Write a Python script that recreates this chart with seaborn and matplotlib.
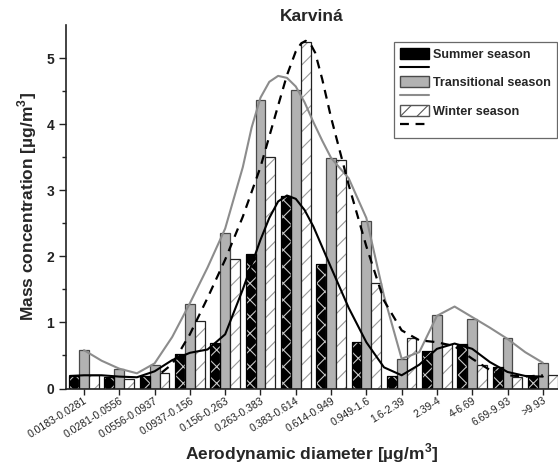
import numpy as np
import pandas as pd
import seaborn as sns
import matplotlib
matplotlib.use("Agg")
import matplotlib.pyplot as plt
from matplotlib.patches import Patch, Rectangle
from matplotlib.lines import Line2D

# ---------------- data ----------------
categories = ["0.0183-0.0281", "0.0281-0.0556", "0.0556-0.0937", "0.0937-0.156",
              "0.156-0.263", "0.263-0.383", "0.383-0.614", "0.614-0.949",
              "0.949-1.6", "1.6-2.39", "2.39-4", "4-6.69", "6.69-9.93", ">9.93"]
seasons = ["Summer season", "Transitional season", "Winter season"]
summer = [0.19, 0.18, 0.19, 0.52, 0.69, 2.04, 2.92, 1.88, 0.70, 0.19, 0.57, 0.67, 0.33, 0.18]
transitional = [0.58, 0.29, 0.35, 1.28, 2.35, 4.37, 4.52, 3.49, 2.53, 0.44, 1.11, 1.05, 0.76, 0.39]
winter = [0.21, 0.14, 0.24, 1.02, 1.96, 3.50, 5.25, 3.46, 1.60, 0.76, 0.68, 0.35, 0.18, 0.21]

# fitted curves (x in category units)
summer_curve_x = [-0.4, 0, 0.5, 1, 1.5, 2, 2.5, 3, 3.5, 4, 4.5, 5, 5.25, 5.5, 5.75, 6,
                  6.25, 6.5, 7, 7.5, 8, 8.5, 9, 9.5, 10, 10.5, 11, 11.5, 12, 12.5, 13]
summer_curve_y = [0.19, 0.20, 0.20, 0.18, 0.17, 0.26, 0.43, 0.54, 0.59, 0.82, 1.50, 2.25,
                  2.58, 2.83, 2.92, 2.87, 2.70, 2.45, 1.83, 1.22, 0.70, 0.32, 0.20, 0.36,
                  0.60, 0.68, 0.60, 0.40, 0.25, 0.19, 0.18]
trans_curve_x = [0, 0.5, 1, 1.5, 2, 2.5, 3, 3.5, 4, 4.5, 4.75, 5, 5.25, 5.5, 5.75, 6,
                 6.25, 6.5, 6.75, 7, 7.5, 8, 8.5, 9, 9.5, 10, 10.5, 11, 11.5, 12, 12.5, 13]
trans_curve_y = [0.58, 0.42, 0.30, 0.23, 0.38, 0.78, 1.29, 1.83, 2.42, 3.35, 3.95, 4.40,
                 4.64, 4.73, 4.70, 4.57, 4.33, 4.03, 3.75, 3.49, 3.18, 2.58, 1.40, 0.45,
                 0.55, 1.10, 1.24, 1.08, 0.92, 0.75, 0.55, 0.39]
winter_curve_x = [2.2, 2.5, 3, 3.5, 4, 4.5, 5, 5.5, 5.75, 6, 6.15, 6.28, 6.4, 6.55, 6.75,
                  7, 7.5, 8, 8.5, 9, 9.5, 10, 10.5, 11, 11.5, 12, 12.5, 13]
winter_curve_y = [0.24, 0.37, 0.82, 1.37, 1.95, 2.60, 3.35, 4.28, 4.74, 5.10, 5.22, 5.26,
                  5.23, 5.08, 4.68, 4.10, 3.08, 2.15, 1.33, 0.88, 0.73, 0.70, 0.64, 0.45,
                  0.28, 0.20, 0.18, 0.20]

# ---------------- style ----------------
sns.set_theme(style="ticks")
plt.rcParams["font.family"] = ["Liberation Sans", "DejaVu Sans"]
plt.rcParams["mathtext.fontset"] = "custom"
plt.rcParams["mathtext.bf"] = "Liberation Sans:bold"
plt.rcParams["mathtext.rm"] = "Liberation Sans:bold"
plt.rcParams["hatch.linewidth"] = 0.8

df = pd.DataFrame({
    "size": categories * 3,
    "value": summer + transitional + winter,
    "season": [s for s in seasons for _ in categories],
})

fig = plt.figure(figsize=(5.58, 4.68), dpi=100)
ax = fig.add_axes([66 / 558, 1 - 388.5 / 468, 1 - 66 / 558, (388.5 - 25) / 468])

sns.barplot(data=df, x="size", y="value", hue="season", order=categories,
            hue_order=seasons, width=0.84, dodge=True, ax=ax, legend=False,
            palette=["black", "#b2b2b2", "white"], saturation=1)

styles = {
    0: dict(face="black", hatch="xx", hcol="#c8c8c8", edge="black"),
    1: dict(face="#b2b2b2", hatch=None, hcol=None, edge="#4a4a4a"),
    2: dict(face="white", hatch="//", hcol="#9a9a9a", edge="#222222"),
}
for i, cont in enumerate(ax.containers):
    st = styles[i]
    for p in cont:
        p.set_facecolor(st["face"])
        p.set_linewidth(0.9)
        if st["hatch"]:
            p.set_hatch(st["hatch"])
            if hasattr(p, "set_hatchcolor"):
                p.set_hatchcolor(st["hcol"])
                p.set_edgecolor(st["edge"])
            else:
                p.set_edgecolor(st["hcol"])
                p.set_linewidth(0)
                ax.add_patch(Rectangle(p.get_xy(), p.get_width(), p.get_height(),
                                       fill=False, edgecolor=st["edge"], lw=0.9, zorder=p.get_zorder()))
        else:
            p.set_edgecolor(st["edge"])

sns.lineplot(x=summer_curve_x, y=summer_curve_y, ax=ax, color="black", lw=1.5,
             sort=False, estimator=None, zorder=5)
sns.lineplot(x=trans_curve_x, y=trans_curve_y, ax=ax, color="#8c8c8c", lw=1.5,
             sort=False, estimator=None, zorder=5)
sns.lineplot(x=winter_curve_x, y=winter_curve_y, ax=ax, color="black", lw=1.6,
             sort=False, estimator=None, zorder=5, linestyle=(0, (4, 3)))

ax.set_xlim(-0.51, 13.43)
ax.set_ylim(0, 5.5)
ax.set_yticks([0, 1, 2, 3, 4, 5])
ax.set_yticks(np.arange(0.5, 5.5, 1.0), minor=True)
ax.tick_params(axis="y", which="major", direction="out", length=5, width=1, labelsize=10,
               colors="#222222")
ax.tick_params(axis="y", which="minor", direction="out", length=3, width=1, color="#222222")
ax.tick_params(axis="x", which="major", direction="out", length=4, width=1, labelsize=7.5,
               colors="#222222", pad=1)
for lab in ax.get_yticklabels():
    lab.set_fontweight("bold")
ax.set_xticks(range(len(categories)))
ax.set_xticklabels(categories, rotation=32, ha="right", rotation_mode="anchor")
for s in ["top", "right"]:
    ax.spines[s].set_visible(False)
for s in ["left", "bottom"]:
    ax.spines[s].set_linewidth(1.2)
    ax.spines[s].set_color("#222222")

ax.set_xlabel(r"Aerodynamic diameter [µg/m$^{\mathbf{3}}$]", fontsize=12.5, fontweight="bold",
              labelpad=1)
ax.set_ylabel(r"Mass concentration [µg/m$^{\mathbf{3}}$]", fontsize=12.5, fontweight="bold",
              labelpad=5)
ax.set_title("Karviná", fontsize=12.5, fontweight="bold", pad=3)

handles = [
    Patch(facecolor="black", edgecolor="black", hatch="xx"),
    Line2D([], [], color="black", lw=1.5),
    Patch(facecolor="#b2b2b2", edgecolor="#4a4a4a"),
    Line2D([], [], color="#8c8c8c", lw=1.5),
    Patch(facecolor="white", edgecolor="#555555", hatch="//"),
    Line2D([], [], color="black", lw=1.6, linestyle=(0, (4, 3))),
]
labels = ["Summer season", "", "Transitional season", "", "Winter season", ""]
leg = fig.legend(handles, labels, loc="upper left", bbox_to_anchor=(394 / 558, 1 - 42 / 468),
                 prop=dict(size=9.1, weight="bold"), frameon=True, fancybox=False,
                 handlelength=2.3, handleheight=1.0, labelspacing=0.1, handletextpad=0.35,
                 borderpad=0.45, borderaxespad=0)
leg.get_frame().set_edgecolor("#444444")
leg.get_frame().set_linewidth(0.9)

fig.savefig("out.png", dpi=100)
